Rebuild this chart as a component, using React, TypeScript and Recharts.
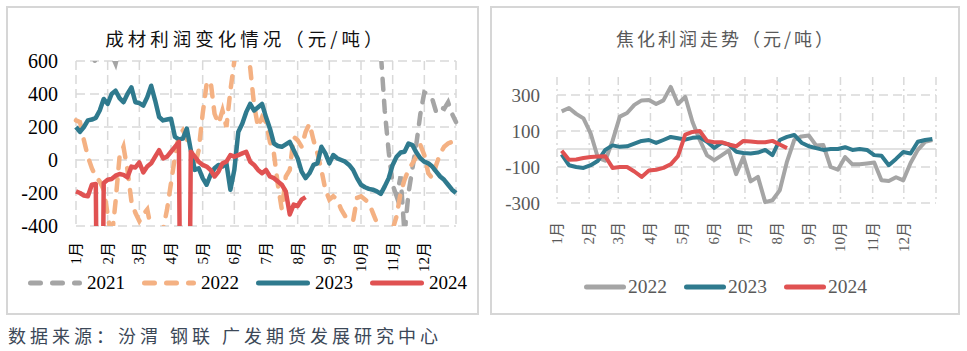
import React from "react";
import {
  LineChart,
  Line,
  XAxis,
  YAxis,
  CartesianGrid,
  ReferenceLine,
  Legend,
} from "recharts";

const FONT = "'Liberation Serif', 'Noto Sans CJK SC', serif";
const CJK = "'Noto Sans CJK SC', sans-serif";

const months = ["1月", "2月", "3月", "4月", "5月", "6月", "7月", "8月", "9月", "10月", "11月", "12月"];

// 成材利润 (元/吨), one point per 1/8 month
const steel2021 = [
  760, 720, 690, 650, 640, 590, 700, 760, 680, 640,
  585, 680, 720, 760, 800, 780, 820, 860, 900, 950,
  1000, 1050, 1100, 1150, 1200, 1250, 1300, 1350, 1400, 1450,
  1400, 1300, 1200, 1100, 1000, 950, 900, 850, 820, 800,
  780, 760, 740, 720, 700, 720, 760, 800, 850, 900,
  950, 1000, 1050, 1000, 950, 900, 880, 900, 950, 1000,
  1100, 1200, 1300, 1400, 1500, 1450, 1400, 1300, 1200, 1100,
  1000, 900, 800, 750, 700, 680, 660, 650, 300, 50,
  -150, -220, -100, -450, -200, -50, 100, 280, 410, 400,
  370, 290, 320, 310, 350, 280, 230,
];
const steel2022 = [
  240, 230, 120, 20, -50, -100, -130, -180, -330, -480,
  -250, 20, 80, -60, -250, -320, -370, -330, -300, -420,
  -480, -500, -420, -300, -140, 20, 150, 180, 130, 60,
  -40, 60, 280, 460, 480, 280, 220, 300, 200, 420,
  600, 720, 760, 700, 560, 330, 200, 260, 230, 110,
  40, -150, -300, -100, -60, 140, 120, 80, 170, 220,
  120, 40, -60, -180, -240, -220, -240, -300, -340, -350,
  -370, -230, -220, -240, -260, -320, -380, -440, -470, -450,
  -420, -340, -200, -120, -60, -20, 20, 90, 30, -80,
  -110, -30, 40, 80, 100, 110, 150,
];
const steel2023 = [
  200, 170, 200, 240, 245, 255, 300, 370, 340, 400,
  420, 375, 350, 400, 440, 350, 345, 330, 380, 450,
  360, 260, 240, 245, 250, 140, 125, 130, 190, 60,
  -60, -50, -110, -150, -90, -50, -30, -40, -20, -180,
  -60, 170, 220, 290, 340, 300, 320, 340, 260, 190,
  100, 85, 80, 95, 110, 60, 10, -70, -110, -80,
  -30, -20, 80, 40, -20, 30, 10, 0, -10, -30,
  -60, -110, -150, -165, -175, -180, -190, -205, -160, -110,
  -30, 20, 45, 50, 100, 90, 45, 10, -10, -20,
  -40, -70, -100, -120, -150, -180, -200,
];
const steel2024 = [
  -190, -200, -215, -220, -150, -145, -3000, -140, -120, -115,
  -95, -85, -90, -105, -40, -45, -15, -75, -40, -20,
  20, 60, 10, 20, 50, 80, 110, -3000, -3000, 50,
  20, -10, -30, -40, -60, -100, -70, -20, -10, 30,
  20, 30, 40, 50, -10, -30, -60, -80, -60, -100,
  -110, -130, -150, -190, -330, -270, -280, -240, -225,
];
const steelTicksX = [0, 8, 16, 24, 32, 40, 48, 56, 64, 72, 80, 88, 96];
const steelTicksY = [-400, -200, 0, 200, 400, 600];

// 焦化利润 (元/吨), weekly
const coke2022 = [
  209, 228, 195, 170, 85, -50, -65, 45, 180, 200,
  245, 270, 272, 250, 270, 345, 250, 290, 150, 50,
  -35, -62, -35, -8, -140, -45, -180, -155, -295, -285,
  -230, -70, 50, 70, 75, 20, 22, -100, -115, -45,
  -85, -85, -80, -75, -174, -178, -157, -174, -78, -5,
  40, 50,
];
const coke2023 = [
  -30, -90, -100, -105, -90, -65, -5, 20, 12, 15,
  30, 45, 50, 34, 50, 67, 60, 52, 62, 65,
  40, 6, 34, 25, -15, -22, -25, -20, -5, -34,
  50, 67, 78, 35, 15, 5, -5, 0, 0, 10,
  -5, 0, -5, -34, -38, -90, -55, -17, -25, 40,
  50, 56,
];
const coke2024 = [
  -10, -60, -58, -50, -45, -42, -40, -105, -100, -100,
  -125, -155, -120, -115, -105, -85, -40, 80, 95, 100,
  45, 38, 38, 25, 15, 45, 42, 38, 38, 45,
  25, 5,
];
const monthStartDays = [0, 31, 59, 90, 120, 151, 181, 212, 243, 273, 304, 334, 365];
const cokeTicksY = [-300, -100, 100, 300];
const cokeGridY = [-300, -200, -100, 100, 200, 300];

const C2021 = "#A5A5A5";
const C2022 = "#F4B183";
const C2023 = "#2F7A8E";
const C2024 = "#E05252";

const steelRows = steel2023.map((v, i) => ({
  i,
  y2021: steel2021[i],
  y2022: steel2022[i],
  y2023: v,
  y2024: steel2024[i] ?? null,
}));

const cokeRows = coke2022.map((v, k) => ({
  day: 4.5 + 7 * k,
  y2022: v,
  y2023: coke2023[k],
  y2024: coke2024[k] ?? null,
}));

type Item = { name: string; color: string; dashed?: boolean };

const LegendRow = ({
  items,
  lineW,
  textGap,
  itemGap,
  fontSize,
  color,
}: {
  items: Item[];
  lineW: number;
  textGap: number;
  itemGap: number;
  fontSize: number;
  color: string;
}) => (
  <div style={{ display: "flex", alignItems: "center" }}>
    {items.map((it, idx) => (
      <div
        key={it.name}
        style={{
          display: "flex",
          alignItems: "center",
          marginRight: idx < items.length - 1 ? itemGap : 0,
        }}
      >
        <svg width={lineW} height={8} style={{ display: "block" }}>
          <line
            x1={2.5}
            y1={4}
            x2={lineW - 2.5}
            y2={4}
            stroke={it.color}
            strokeWidth={5}
            strokeLinecap="round"
            strokeDasharray={it.dashed ? "10 12" : undefined}
          />
        </svg>
        <span style={{ marginLeft: textGap, fontSize, color, fontFamily: FONT, lineHeight: "20px" }}>
          {it.name}
        </span>
      </div>
    ))}
  </div>
);

const MonthTick = (props: any) => {
  const { x, y, payload, labelOf, dy, fill } = props;
  const label = labelOf(payload.value);
  if (!label) return <g />;
  const ty = y + dy;
  return (
    <text
      x={x}
      y={ty}
      transform={`rotate(-90 ${x} ${ty})`}
      textAnchor="end"
      dominantBaseline="central"
      fontSize={15}
      fontFamily={FONT}
      fill={fill}
    >
      {label}
    </text>
  );
};

const panel: React.CSSProperties = {
  position: "absolute",
  top: 6,
  height: 309,
  border: "2px solid #d6d6d6",
  boxSizing: "border-box",
  background: "#fff",
};

const App: React.FC = () => {
  return (
    <div style={{ position: "absolute", left: 0, top: 0, width: 967, height: 351, background: "#fff" }}>
      {/* 成材利润 */}
      <div style={{ ...panel, left: 6, width: 473 }}>
        <LineChart width={469} height={305} data={steelRows} margin={{ top: 53, right: 21, bottom: 47, left: 8 }}>
          <CartesianGrid stroke="#d9d9d9" strokeWidth={1.5} strokeDasharray="9 5" />
          <XAxis
            dataKey="i"
            type="number"
            domain={[0, 96]}
            ticks={steelTicksX}
            interval={0}
            height={40}
            axisLine={false}
            tickLine={false}
            tickSize={0}
            tickMargin={0}
            tick={(p: any) => (
              <MonthTick {...p} dy={16} fill="#000" labelOf={(v: number) => months[v / 8]} />
            )}
          />
          <YAxis
            domain={[-400, 600]}
            ticks={steelTicksY}
            allowDataOverflow
            width={60}
            axisLine={false}
            tickLine={false}
            tickSize={0}
            tickMargin={18}
            tick={{ fill: "#000", fontSize: 20, fontFamily: FONT }}
          />
          <Line dataKey="y2021" name="2021" stroke={C2021} strokeWidth={4.5} strokeDasharray="11 11" strokeLinecap="round" dot={false} isAnimationActive={false} />
          <Line dataKey="y2022" name="2022" stroke={C2022} strokeWidth={4.5} strokeDasharray="11 11" strokeLinecap="round" dot={false} isAnimationActive={false} />
          <Line dataKey="y2023" name="2023" stroke={C2023} strokeWidth={4.5} strokeLinejoin="round" dot={false} isAnimationActive={false} />
          <Line dataKey="y2024" name="2024" stroke={C2024} strokeWidth={4.5} strokeLinejoin="round" dot={false} isAnimationActive={false} />
          <Legend
            verticalAlign="middle"
            align="center"
            layout="horizontal"
            wrapperStyle={{ top: 265, left: 20, width: "auto" }}
            content={() => (
              <LegendRow
                items={[
                  { name: "2021", color: C2021, dashed: true },
                  { name: "2022", color: C2022, dashed: true },
                  { name: "2023", color: C2023 },
                  { name: "2024", color: C2024 },
                ]}
                lineW={54}
                textGap={5}
                itemGap={17}
                fontSize={19}
                color="#000"
              />
            )}
          />
        </LineChart>
        <div
          style={{
            position: "absolute",
            left: 238,
            top: 19,
            transform: "translateX(-50%)",
            whiteSpace: "nowrap",
            fontFamily: CJK,
            fontSize: 18.5,
            letterSpacing: 4,
            lineHeight: "22px",
            color: "#111",
          }}
        >
          成材利润变化情况（元/吨）
        </div>
      </div>

      {/* 焦化利润 */}
      <div style={{ ...panel, left: 490, width: 470 }}>
        <LineChart width={466} height={305} data={cokeRows} margin={{ top: 69, right: 22, bottom: 70, left: 5 }}>
          <CartesianGrid vertical={false} horizontalValues={cokeGridY} stroke="#d9d9d9" strokeWidth={1.5} strokeDasharray="9 5" />
          <CartesianGrid horizontal={false} stroke="#d9d9d9" strokeWidth={1.5} strokeDasharray="8 4 2 4" />
          <ReferenceLine y={0} stroke="#d9d9d9" strokeWidth={1.5} />
          <XAxis
            dataKey="day"
            type="number"
            domain={[0, 365]}
            ticks={monthStartDays}
            interval={0}
            height={40}
            axisLine={false}
            tickLine={false}
            tickSize={0}
            tickMargin={0}
            tick={(p: any) => (
              <MonthTick
                {...p}
                dy={19}
                fill="#595959"
                labelOf={(v: number) => months[monthStartDays.indexOf(v)]}
              />
            )}
          />
          <YAxis
            domain={[-300, 400]}
            ticks={cokeTicksY}
            width={60}
            axisLine={false}
            tickLine={false}
            tickSize={0}
            tickMargin={17}
            tick={{ fill: "#595959", fontSize: 19, fontFamily: FONT }}
          />
          <Line dataKey="y2022" name="2022" stroke={C2021} strokeWidth={4} strokeLinejoin="round" dot={false} isAnimationActive={false} />
          <Line dataKey="y2023" name="2023" stroke={C2023} strokeWidth={4} strokeLinejoin="round" dot={false} isAnimationActive={false} />
          <Line dataKey="y2024" name="2024" stroke={C2024} strokeWidth={4} strokeLinejoin="round" dot={false} isAnimationActive={false} />
          <Legend
            verticalAlign="middle"
            align="center"
            layout="horizontal"
            wrapperStyle={{ top: 269, left: 92, width: "auto" }}
            content={() => (
              <LegendRow
                items={[
                  { name: "2022", color: C2021 },
                  { name: "2023", color: C2023 },
                  { name: "2024", color: C2024 },
                ]}
                lineW={42}
                textGap={2}
                itemGap={17}
                fontSize={19.5}
                color="#595959"
              />
            )}
          />
        </LineChart>
        <div
          style={{
            position: "absolute",
            left: 234,
            top: 19,
            transform: "translateX(-50%)",
            whiteSpace: "nowrap",
            fontFamily: CJK,
            fontSize: 18,
            letterSpacing: 3,
            lineHeight: "22px",
            color: "#595959",
          }}
        >
          焦化利润走势（元/吨）
        </div>
      </div>

      <div
        style={{
          position: "absolute",
          left: 8,
          top: 323,
          whiteSpace: "pre",
          fontFamily: CJK,
          fontSize: 18,
          letterSpacing: 4,
          lineHeight: "24px",
          color: "#3c4858",
        }}
      >
        数据来源：汾渭 钢联 广发期货发展研究中心
      </div>
    </div>
  );
};

export default App;
